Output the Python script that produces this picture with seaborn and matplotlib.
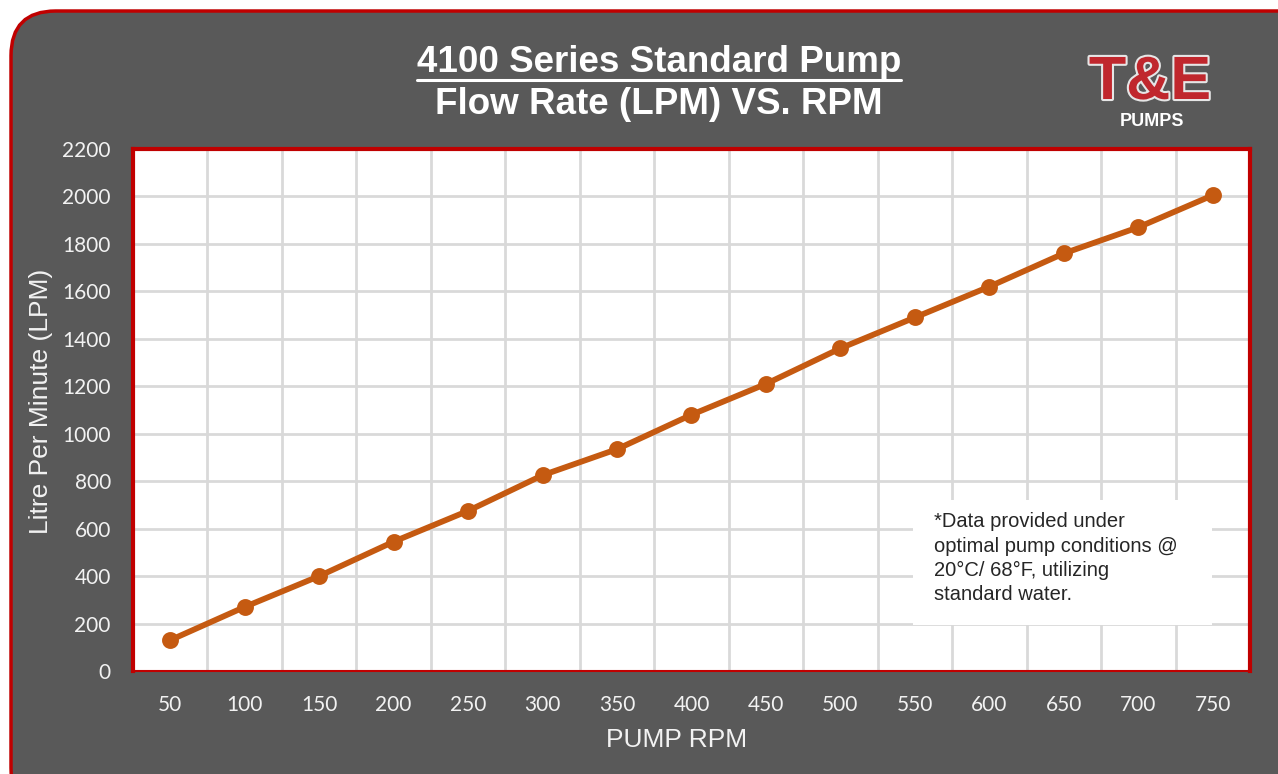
import seaborn as sns
import matplotlib.pyplot as plt
import pandas as pd
from matplotlib.patches import FancyBboxPatch, Rectangle
from matplotlib.lines import Line2D
import matplotlib.patheffects as pe

# data
rpm = [50, 100, 150, 200, 250, 300, 350, 400, 450, 500, 550, 600, 650, 700, 750]
lpm = [130, 270, 400, 545, 675, 825, 935, 1080, 1210, 1360, 1490, 1620, 1760, 1870, 2005]
y_ticks = list(range(0, 2201, 200))

df = pd.DataFrame({'rpm': [str(r) for r in rpm], 'lpm': lpm})

sns.set_style('white')
W, H = 1278, 774
fig = plt.figure(figsize=(W / 100, H / 100), dpi=100)
fig.patch.set_facecolor('white')

# dark rounded background with red border
bg = FancyBboxPatch((11 / W, -0.05), 1.2, 1.05 - 11 / H,
                    boxstyle='round,pad=0,rounding_size=0.035',
                    transform=fig.transFigure, facecolor='#595959',
                    edgecolor='#c00000', linewidth=2.5, mutation_aspect=W / H,
                    zorder=-5)
fig.add_artist(bg)

ax = fig.add_axes([133 / W, 1 - 671 / H, (1250 - 133) / W, (671 - 149) / H])
ax.set_facecolor('white')

sns.pointplot(data=df, x='rpm', y='lpm', color='#c55a11', ax=ax,
              markers='o', markersize=9, linewidth=4.2, zorder=5)

ax.set_xlim(-0.5, len(rpm) - 0.5)
ax.set_ylim(0, 2200)
ax.set_yticks(y_ticks)
ax.set_xticks(range(len(rpm)))
ax.set_xticks([i + 0.5 for i in range(len(rpm) - 1)], minor=True)
ax.grid(True, which='minor', axis='x', color='#d9d9d9', linewidth=2)
ax.grid(True, which='major', axis='y', color='#d9d9d9', linewidth=2)
ax.set_axisbelow(True)
ax.tick_params(axis='both', which='both', length=0, colors='#f2f2f2', labelsize=15)
ax.tick_params(axis='x', pad=17)
ax.tick_params(axis='y', pad=16)
for lab in ax.get_xticklabels() + ax.get_yticklabels():
    lab.set_family('Lato')

for s in ['left', 'top', 'right']:
    ax.spines[s].set_color('#c00000')
    ax.spines[s].set_linewidth(3)
    ax.spines[s].set_visible(True)
ax.spines['bottom'].set_color('#c00000')
ax.spines['bottom'].set_linewidth(1.5)
ax.spines['bottom'].set_visible(True)

ax.set_xlabel('PUMP RPM', color='#f2f2f2', fontsize=19, family='Liberation Sans')
ax.xaxis.set_label_coords(0.487, -57 / 522)
ax.set_ylabel('Litre Per Minute (LPM)', color='#f2f2f2', fontsize=19,
              family='Liberation Sans')
ax.yaxis.set_label_coords(-80 / 1117, 0.517)

# note box
ax.add_patch(Rectangle((0.698, 0.088), 0.268, 0.24, transform=ax.transAxes,
                       facecolor='white', edgecolor='none', zorder=4))
ax.text(0.717, 0.304, '*Data provided under\noptimal pump conditions @\n20°C/ 68°F, utilizing\nstandard water.',
        transform=ax.transAxes, fontsize=14.5, family='Liberation Sans', color='#262626',
        va='top', ha='left', linespacing=1.35, zorder=6)

# title
t1 = fig.text(659 / W, 1 - 62 / H, '4100 Series Standard Pump', ha='center', va='center',
              color='white', fontsize=26.5, fontweight='bold', family='Liberation Sans')
fig.text(659 / W, 1 - 104 / H, 'Flow Rate (LPM) VS. RPM', ha='center', va='center',
         color='white', fontsize=26.5, fontweight='bold', family='Liberation Sans')
fig.canvas.draw()
bb = t1.get_window_extent()
fig.add_artist(Line2D([bb.x0 / W, bb.x1 / W], [(H - 80) / H] * 2, color='white',
                      linewidth=2.2, transform=fig.transFigure))

# logo
fig.text(1150 / W, 1 - 99 / H, 'T&E', ha='center', va='baseline', color='#c0272d',
         fontsize=44, fontweight='bold', family='Liberation Sans',
         path_effects=[pe.withStroke(linewidth=3, foreground='#e6e6e6')])
fig.text(1152 / W, 1 - 113 / H, 'PUMPS', ha='center', va='top', color='white',
         fontsize=13, fontweight='bold', family='Liberation Sans')

fig.savefig('out.png', dpi=100, facecolor=fig.get_facecolor())
